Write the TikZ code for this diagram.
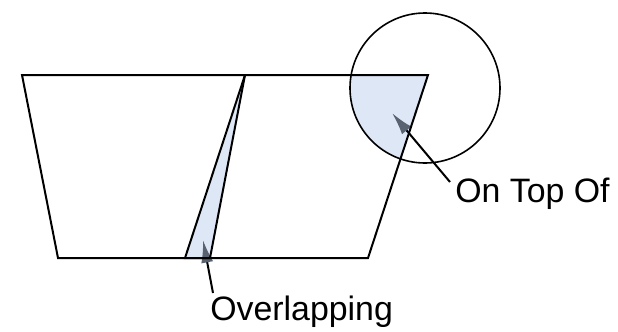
\documentclass[tikz,border=0pt]{standalone}
\usepackage{fontspec}
\setmainfont{Liberation Sans}
\usetikzlibrary{arrows.meta}
\definecolor{paleblue}{RGB}{221,231,245}
\definecolor{tipgray}{RGB}{88,98,112}
\tikzset{
  shapeline/.style={line width=1.5pt, line join=miter},
  circline/.style={line width=1.2pt},
  callout/.style={line width=1.5pt, -{Latex[length=17pt,width=9pt,color=tipgray]}},
  lbl/.style={inner sep=0pt, anchor=base west, font=\fontsize{25.4pt}{29pt}\selectfont}
}
\begin{document}
\begin{tikzpicture}[x=0.75pt,y=-0.75pt]
\useasboundingbox (0,0) rectangle (618,332);
% vertices
\coordinate (LA) at (22,75);
\coordinate (LB) at (245,75);
\coordinate (LC) at (210,258);
\coordinate (LD) at (58,258);
\coordinate (RA) at (245,75);
\coordinate (RB) at (428,75);
\coordinate (RC) at (368,258);
\coordinate (RD) at (185,258);
\coordinate (CC) at (425,88);
% fills
\begin{scope}
  \clip (LA) -- (LB) -- (LC) -- (LD) -- cycle;
  \fill[paleblue] (RA) -- (RB) -- (RC) -- (RD) -- cycle;
\end{scope}
\begin{scope}
  \clip (CC) circle[radius=75];
  \fill[paleblue] (RA) -- (RB) -- (RC) -- (RD) -- cycle;
\end{scope}
% labels
\node[lbl] (ontop) at (455,202) {On Top Of};
\node[lbl] (overlap) at (210,320) {Overlapping};
\coordinate (s1) at (450,182);
\coordinate (t1) at (392,113);
\coordinate (s2) at (213,293);
\coordinate (t2) at (203,240);
\draw[callout] (s1) -- (t1);
\draw[callout] (s2) -- (t2);
% outlines
\draw[shapeline] (LA) -- (LB) -- (LC) -- (LD) -- cycle;
\draw[shapeline] (RA) -- (RB) -- (RC) -- (RD) -- cycle;
\draw[circline] (CC) circle[radius=75];
\end{tikzpicture}
\end{document}
